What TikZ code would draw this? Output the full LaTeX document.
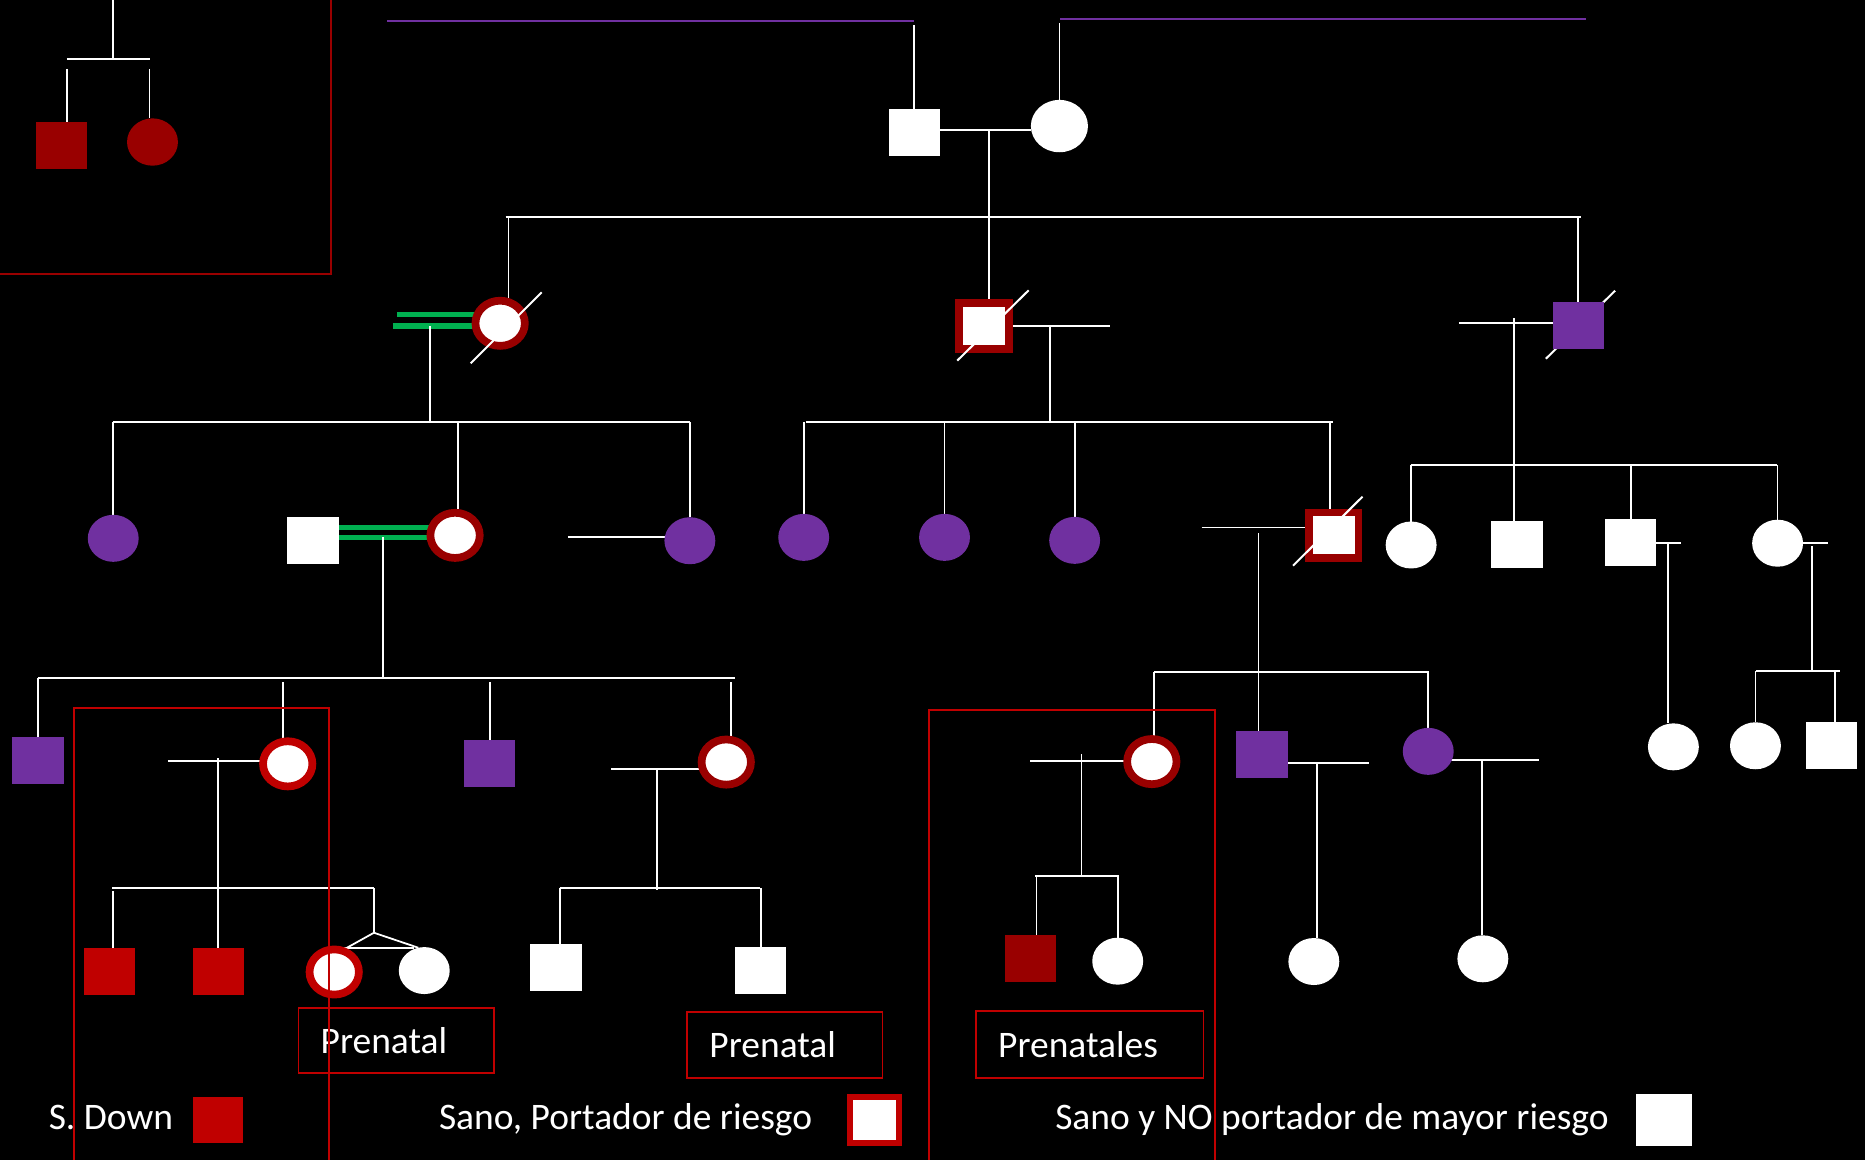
\documentclass[tikz,border=0pt]{standalone}
\usepackage{fontspec}
\setmainfont{Carlito}
\usetikzlibrary{shapes.geometric}
\definecolor{dred}{HTML}{990000}
\definecolor{bred}{HTML}{C00000}
\definecolor{purp}{HTML}{7030A0}
\definecolor{grn}{HTML}{00B050}
\pgfdeclarelayer{bg}
\pgfsetlayers{bg,main}
\begin{document}
\begin{tikzpicture}[x=1pt,y=-1pt,
  wl/.style={draw=white,line width=1.5pt},
  sl/.style={draw=white,line width=1.7pt},
  gl/.style={draw=grn,line width=4.8pt},
  pl/.style={draw=purp,line width=1.9pt},
  rb/.style={draw=bred,line width=1.5pt},
  sym/.style={inner sep=0pt,outer sep=0pt},
  sq/.style={sym,rectangle,minimum width=43pt,minimum height=39.5pt,fill=#1},
  sq/.default=white,
  ci/.style={sym,ellipse,minimum width=42.8pt,minimum height=39.5pt,fill=#1},
  ci/.default=white,
  ringc/.style={sym,ellipse,fill=white,draw=#1,line width=6.5pt,minimum width=41.5pt,minimum height=38pt},
  ringc/.default=dred,
  rings/.style={sym,rectangle,fill=white,draw=#1,line width=6.6pt,minimum width=41.5pt,minimum height=38.2pt},
  rings/.default=dred,
  lbl/.style={text=white,font=\fontsize{31.5}{37}\selectfont,inner sep=0pt,anchor=base west}]

\useasboundingbox (0,0) rectangle (1568,975);
\begin{pgfonlayer}{bg}
  \fill[black] (0,0) rectangle (1568,975);
\end{pgfonlayer}

% ---------- symbols ----------
% upper-left fragment
\node[sq=dred] (tl1) at (51.7,122.3) {};
\node[ci=dred,minimum height=39.8pt] (tl2) at (128.2,119.4) {};
% generation I
\node[sq] (I1) at (768.6,111.5) {};
\node[ci,minimum width=48pt,minimum height=44pt] (I2) at (890.7,106) {};
% generation II
\node[ringc] (II1) at (420.5,271.8) {};
\node[rings] (II2) at (827.3,274.1) {};
\node[sq=purp,minimum width=42.6pt,minimum height=39.8pt] (II3) at (1327,273.8) {};
% generation III
\node[ci=purp] (III1) at (95.2,452.6) {};
\node[sq] (III2) at (263.2,454.6) {};
\node[ringc] (III3) at (382.6,450.1) {};
\node[ci=purp] (III4) at (580,454.6) {};
\node[ci=purp] (III5) at (675.7,451.8) {};
\node[ci=purp] (III6) at (794.1,451.8) {};
\node[ci=purp] (III7) at (903.5,454.3) {};
\node[rings] (III8) at (1121.4,450) {};
\node[ci] (III9) at (1186.4,458.2) {};
\node[sq,minimum width=43.7pt] (III10) at (1275.5,458) {};
\node[sq] (III11) at (1371,456.5) {};
\node[ci] (III12) at (1494.5,456.7) {};
% generation IV
\node[sq=purp] (IV1) at (32,639.2) {};
\node[ringc=bred] (IV2) at (241.9,642.2) {};
\node[sq=purp] (IV3) at (411.9,642.1) {};
\node[ringc] (IV4) at (610.6,640.7) {};
\node[ringc] (IV5) at (968.4,640.3) {};
\node[sq=purp,minimum width=43.7pt] (IV6) at (1060.75,634.65) {};
\node[ci=purp] (IV7) at (1200.8,631.7) {};
\node[ci] (IV8) at (1406.9,627.9) {};
\node[ci] (IV9) at (1475.9,627) {};
\node[sq] (IV10) at (1539.65,627.05) {};
% generation V
\node[sq=bred] (V1) at (92.25,817) {};
\node[sq=bred] (V2) at (183.8,817) {};
\node[ringc=bred] (V3) at (281,817.2) {};
\node[ci] (V4) at (356.7,816) {};
\node[sq] (V5) at (467.5,813.5) {};
\node[sq] (V6) at (639.5,816) {};
\node[sq=dred] (V7) at (866.35,806) {};
\node[ci] (V8) at (939.7,808.1) {};
\node[ci] (V9) at (1104.6,808.4) {};
\node[ci] (V10) at (1246.7,806.1) {};

% deceased marks
\draw[sl] (395.7,305.5) -- (455.4,245.8);
\draw[sl] (804.8,303.2) -- (864.8,244.1);
\draw[sl] (1087.1,475.6) -- (1145.5,417.6);

% ---------- connectors ----------
\begin{pgfonlayer}{bg}
  % deceased mark behind the filled square
  \draw[sl] (1299.7,301.6) -- (1357.9,244.4);
  % upper-left fragment
  \coordinate (tlc) at (94.7,49.6);
  \draw[wl] (94.7,0) -- (tlc);
  \draw[wl] (56.3,49.6) -- (126,49.6);
  \draw[wl] (56.3,58) -- (tl1.north -| 56.3,0);
  \draw[wl] (125.7,58) -- (tl2.north -| 125.7,0);
  % ancestors
  \draw[pl] (325.4,17.9) -- (768.3,17.9);
  \draw[pl] (891.2,16) -- (1333.5,16);
  \draw[wl] (I1.north) -- ++(0,-71);
  \draw[wl] (I2.north) -- ++(0,-65);
  \coordinate (m1) at (831.7,109.3);
  \draw[wl] (I1.east |- m1) -- (I2.west |- m1);
  \draw[wl] (m1) -- (m1 |- II2.north);
  % siblings of generation II
  \coordinate (s1a) at (425.1,182.2);
  \coordinate (s1b) at (1328.8,182.2);
  \draw[wl] (s1a) -- (s1b);
  \draw[wl] ([xshift=7pt]II1.north) -- ([xshift=7pt]II1.north |- s1a);
  \draw[wl] (II3.north) -- (II3.north |- s1b);
  % consanguineous union of II1
  \coordinate (g1) at (333.8,264.3);
  \coordinate (g2) at (330.4,274.3);
  \draw[gl] (g1) -- (g1 -| II1);
  \draw[gl] (g2) -- (g2 -| II1);
  \coordinate (c1) at (361.5,274.3);
  \coordinate (s2a) at (95,355);
  \coordinate (s2b) at (580,355);
  \draw[wl] (c1) -- (c1 |- s2a);
  % union of II2
  \coordinate (c2) at (933,274.4);
  \draw[wl] (II2.east |- c2) -- (c2);
  \coordinate (c3) at (882.8,274.4);
  \coordinate (s3a) at (677.7,354.5);
  \coordinate (s3b) at (1121,354.5);
  \draw[wl] (c3) -- (c3 |- s3a);
  % union of II3
  \coordinate (c4) at (1226.5,271.3);
  \draw[wl] (c4) -- (c4 -| II3.west);
  \coordinate (c5) at (1273,267.6);
  \draw[wl] (c5) -- (c5 |- III10.north);
  % generation III, left family
  \draw[wl] (s2a) -- (s2b);
  \draw[wl] (III1.north) -- (III1.north |- s2a);
  \draw[wl] ([xshift=2.6pt]III3.north) -- ([xshift=2.6pt]III3.north |- s2a);
  \draw[wl] (III4.north) -- (III4.north |- s2b);
  \draw[gl] (III2.east |- 0,443.6) -- (III3 |- 0,443.6);
  \draw[gl] (III2.east |- 0,451.8) -- (III3 |- 0,451.8);
  \coordinate (c6) at (322.2,451.8);
  \coordinate (s5a) at (32,570);
  \coordinate (s5b) at (617.7,570);
  \draw[wl] (c6) -- (c6 |- s5a);
  \draw[wl] (477.4,451.8) -- (III4 |- 0,451.8);
  % generation III, middle family
  \draw[wl] (s3a) -- (s3b);
  \draw[wl] (III5.north) -- (III5.north |- s3a);
  \draw[wl] (III6.north) -- (III6.north |- s3a);
  \draw[wl] (III7.north) -- (III7.north |- s3a);
  \draw[wl] ([xshift=-3pt]III8.north) -- ([xshift=-3pt]III8.north |- s3b);
  \draw[wl] (1010.2,443.4) -- (III8 |- 0,443.4);
  \coordinate (c7) at (1058,448.4);
  \draw[wl] (c7) -- (c7 |- IV6.north);
  % generation III, right family
  \coordinate (s4a) at (1186,391);
  \coordinate (s4b) at (1494,391);
  \draw[wl] (s4a) -- (s4b);
  \draw[wl] (III9.north) -- (III9.north |- s4a);
  \draw[wl] (III11.north) -- (III11.north |- s4a);
  \draw[wl] (III12.north) -- (III12.north |- s4b);
  \draw[wl] (III11.east |- 0,456.2) -- (1413,456.2);
  \coordinate (c8) at (1402.2,457.4);
  \draw[wl] (c8) -- (c8 |- IV8.north);
  \draw[wl] (III12.east |- 0,456.2) -- (1536.7,456.2);
  \coordinate (c9) at (1523.2,459);
  \coordinate (s7a) at (1476.4,564.2);
  \coordinate (s7b) at (1547.1,564.2);
  \draw[wl] (c9) -- (c9 |- s7a);
  \draw[wl] (s7a) -- (s7b);
  \draw[wl] (IV9.north) -- (IV9.north |- s7a);
  \draw[wl] ([xshift=3.4pt]IV10.north) -- ([xshift=3.4pt]IV10.north |- s7b);
  % generation IV, left family
  \draw[wl] (s5a) -- (s5b);
  \draw[wl] (IV1.north) -- (IV1.north |- s5a);
  \draw[wl] ([xshift=-3.8pt]IV2.north) -- ([xshift=-3.8pt]IV2.north |- 0,573.5);
  \draw[wl] (IV3.north) -- (IV3.north |- 0,573.5);
  \draw[wl] ([xshift=4.1pt]IV4.north) -- ([xshift=4.1pt]IV4.north |- 0,573.5);
  \draw[wl] (141.1,639.5) -- (IV2 |- 0,639.5);
  \coordinate (c10) at (183.2,637.6);
  \draw[wl] (c10) -- (c10 |- V2.north);
  \draw[wl] (513.9,646.8) -- (IV4 |- 0,646.8);
  \coordinate (c11) at (552.5,646.8);
  \draw[wl] (c11) -- (c11 |- 0,748.3);
  % generation V, left families
  \coordinate (s8a) at (94.4,746.6);
  \coordinate (tw) at (314.4,746.6);
  \draw[wl] (s8a) -- (tw);
  \draw[wl] ([xshift=2.5pt]V1.north) -- ([xshift=2.5pt]V1.north |- 0,749);
  \coordinate (twa) at (314.4,784.2);
  \draw[wl] (tw) -- (twa);
  \draw[wl] (twa) -- (291.7,796.8);
  \draw[wl] (twa) -- (351.7,796.8);
  \draw[wl] (288.3,796.8) -- (348.3,796.8);
  \coordinate (s9a) at (470.6,746.3);
  \coordinate (s9b) at (639.2,746.3);
  \draw[wl] (s9a) -- (s9b);
  \draw[wl] ([xshift=3.1pt]V5.north) -- ([xshift=3.1pt]V5.north |- s9a);
  \draw[wl] (V6.north) -- (V6.north |- s9b);
  % generation IV, middle family
  \coordinate (s6a) at (970.3,564.7);
  \coordinate (s6b) at (1201.5,564.7);
  \draw[wl] (s6a) -- (s6b);
  \draw[wl] ([xshift=1.9pt]IV5.north) -- ([xshift=1.9pt]IV5.north |- s6a);
  \draw[wl] (IV7.north) -- (IV7.north |- s6b);
  \draw[wl] (866,640.1) -- (IV5 |- 0,640.1);
  \coordinate (c12) at (909.3,634.2);
  \coordinate (s10a) at (870.2,736.5);
  \coordinate (s10b) at (941,736.5);
  \draw[wl] (c12) -- (c12 |- s10a);
  \draw[wl] (s10a) -- (s10b);
  \draw[wl] ([xshift=5pt]V7.north) -- ([xshift=5pt]V7.north |- s10a);
  \draw[wl] (V8.north) -- (V8.north |- s10b);
  \draw[wl] (IV6.east |- 0,641.2) -- (1150.9,641.2);
  \coordinate (c13) at (1107.1,641.2);
  \draw[wl] (c13) -- (c13 |- V9.north);
  \draw[wl] (IV7 |- 0,638.7) -- (1293.6,638.7);
  \coordinate (c14) at (1246.2,638.7);
  \draw[wl] (c14) -- (c14 |- V10.north);
\end{pgfonlayer}

% ---------- prenatal tags ----------
\draw[rb] (251,847.2) rectangle (415.2,901.8);
\node[lbl] (p1) at (269.4,885.6) {Prenatal};
\draw[rb] (577.8,850.6) rectangle (742,906.1);
\node[lbl] (p2) at (596.3,889) {Prenatal};
\draw[rb] (820.8,850.3) rectangle (1011.9,906.3);
\node[lbl] (p3) at (839,889) {Prenatales};

% ---------- legend ----------
\node[lbl] (lg1) at (40.8,950) {S. Down};
\node[sq=bred,minimum width=42.4pt,minimum height=39.3pt] (lg1s) at (183.4,941.65) {};
\node[lbl] (lg2) at (368.9,950) {Sano, Portador de riesgo};
\node[rings=bred,line width=5.2pt,minimum width=40.9pt,minimum height=38.1pt] (lg2s) at (735.35,941.65) {};
\node[lbl] (lg3) at (887,950) {Sano y NO portador de mayor riesgo};
\node[sq,minimum width=46.9pt,minimum height=43.1pt] (lg3s) at (1398.75,941.65) {};

% ---------- group frames ----------
\draw[dred,line width=1.7pt] (-5,-5) rectangle (278,230.4);
\draw[rb] (62.2,595) rectangle (276.7,990);
\draw[rb] (781.2,597) rectangle (1021.5,990);
\end{tikzpicture}
\end{document}
